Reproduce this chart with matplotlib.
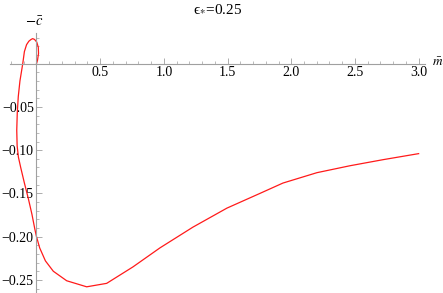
import matplotlib
matplotlib.use("Agg")
import matplotlib.pyplot as plt
from matplotlib.ticker import MultipleLocator, FixedLocator

plt.rcParams['font.family'] = ['Liberation Serif', 'DejaVu Serif']
plt.rcParams['mathtext.fontset'] = 'stix'

# curve (parametric, loops near the origin)
m_vals = [0.0, 0.008, 0.016, 0.014, 0.002, -0.015, -0.03, -0.043, -0.06,
          -0.078, -0.095, -0.108, -0.13, -0.143, -0.151, -0.155, -0.152,
          -0.142, -0.124, -0.095, -0.064, -0.036, -0.012, 0.0, 0.025,
          0.07, 0.132, 0.237, 0.394, 0.551, 0.757, 0.969, 1.228, 1.495,
          1.754, 1.935, 2.202, 2.461, 2.72, 3.0]
c_vals = [0.0, 0.004, 0.012, 0.019, 0.025, 0.028, 0.029, 0.028, 0.026,
          0.022, 0.014, 0.0, -0.02, -0.038, -0.057, -0.077, -0.095,
          -0.108, -0.12, -0.138, -0.156, -0.174, -0.192, -0.2, -0.213,
          -0.228, -0.240, -0.251, -0.258, -0.254, -0.235, -0.213, -0.189,
          -0.167, -0.15, -0.138, -0.126, -0.118, -0.111, -0.104]

x_ticks = [0.5, 1.0, 1.5, 2.0, 2.5, 3.0]
y_ticks = [-0.05, -0.10, -0.15, -0.20, -0.25]

fig = plt.figure(figsize=(4.43, 2.93), dpi=100)
W, H = 443, 293
ax = fig.add_axes([10 / W, 1 - 292 / H, 415 / W, 259 / H])
ax.plot(m_vals, c_vals, color='#ff1a1a', lw=0.9)
ax.set_xlim(-0.208, 3.05)
ax.set_ylim(-0.264, 0.0355)

for s in ['top', 'right']:
    ax.spines[s].set_visible(False)
for s in ['left', 'bottom']:
    ax.spines[s].set_position(('data', 0))
    ax.spines[s].set_color('#a0a0a0')
    ax.spines[s].set_linewidth(0.8)

ax.xaxis.set_major_locator(FixedLocator(x_ticks))
ax.xaxis.set_minor_locator(MultipleLocator(0.1))
ax.yaxis.set_major_locator(FixedLocator(y_ticks))
ax.yaxis.set_minor_locator(MultipleLocator(0.01))
ax.set_xticklabels(['%.1f' % v for v in x_ticks])
ax.set_yticklabels(['\u2212%.2f' % -v for v in y_ticks])
ax.tick_params(which='major', direction='in', length=4, width=0.6,
               color='#a0a0a0', labelsize=10, pad=2)
ax.tick_params(which='minor', direction='in', length=2, width=0.5,
               color='#a0a0a0')
ax.tick_params(axis='x', which='both', bottom=True, top=False)
ax.tick_params(axis='y', which='both', left=True, right=False)

fig.text(218 / W, 1 - 9 / H, '\u03f5$_{*}$=0.25', ha='center',
         va='center', fontsize=11)
fig.text(34 / W, 1 - 22 / H, r'$-\bar{c}$', ha='center', va='center',
         fontsize=10.5)
fig.text(438 / W, 1 - 63 / H, r'$\bar{m}$', ha='center', va='center',
         fontsize=9.5)

fig.savefig('out.png', dpi=100)
